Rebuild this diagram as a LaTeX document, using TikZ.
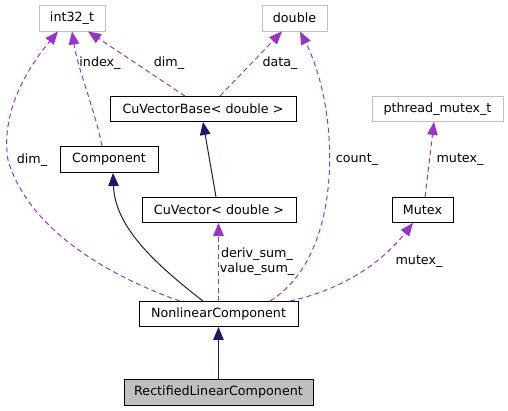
\documentclass[tikz,border=0pt]{standalone}
\usepackage{fontspec}
\setmainfont{DejaVu Sans}
\usetikzlibrary{arrows.meta}
\definecolor{purp}{HTML}{9A32CD}
\definecolor{navyb}{HTML}{191970}
\definecolor{boxgray}{HTML}{BFBFBF}
\begin{document}
\begin{tikzpicture}[x=1pt,y=-1pt,font=\fontsize{12.7}{14.5}\selectfont,
  cls/.style={draw=black,line width=0.9pt,inner sep=0pt,fill=white},
  ext/.style={draw=boxgray,line width=0.9pt,inner sep=0pt,fill=white},
  inh/.style={draw=navyb,line width=1pt,-{Triangle[length=13pt,width=10.5pt,fill=navyb]}},
  use/.style={draw=purp,line width=1pt,dash pattern=on 5pt off 3.5pt,-{Triangle[length=13pt,width=10.5pt,fill=purp]}},
  lbl/.style={inner sep=0pt,align=center}]
\useasboundingbox (0,0) rectangle (508,411);
% nodes
\node[ext,minimum width=66pt,minimum height=26pt] (int) at (72,18) {int32\_t};
\node[ext,minimum width=65pt,minimum height=26pt] (dbl) at (294.5,18) {double};
\node[cls,minimum width=186pt,minimum height=25pt] (cvb) at (203,109) {CuVectorBase< double >};
\node[ext,minimum width=131pt,minimum height=25pt] (pth) at (437.5,109) {pthread\_mutex\_t};
\node[cls,minimum width=98pt,minimum height=26pt] (comp) at (109,159.5) {Component};
\node[cls,minimum width=154pt,minimum height=25pt] (cv) at (219,210) {CuVector< double >};
\node[cls,minimum width=61pt,minimum height=25pt] (mtx) at (422.5,210) {Mutex};
\node[cls,minimum width=159pt,minimum height=25pt] (nlc) at (218.5,314) {NonlinearComponent};
\node[cls,fill=boxgray,minimum width=189pt,minimum height=26pt] (rlc) at (218.5,392) {RectifiedLinearComponent};
% edges
\draw[use] ([xshift=-18pt]cvb.north) -- ([xshift=16pt]int.south);
\draw[use] ([xshift=17pt]cvb.north) -- ([xshift=-12.5pt]dbl.south);
\draw[use] ([xshift=-7pt]comp.north) .. controls (95,110) and (78,70) .. (int.south);
\draw[use] ([xshift=-38.5pt]nlc.north) .. controls (120,280) and (30,235) .. (8,160)
  .. controls (0,110) and (30,65) .. ([xshift=-14pt]int.south);
\draw[use] ([xshift=51.5pt]nlc.north) .. controls (345,255) and (340,110) .. ([xshift=5.5pt]dbl.south);
\draw[use] (nlc.north) -- (nlc.north |- cv.south);
\draw[use] ([xshift=71.5pt]nlc.north) .. controls (340,290) and (380,265) .. ([xshift=-9.5pt]mtx.south);
\draw[use] ([xshift=2.5pt]mtx.north) -- ([xshift=-3.5pt]pth.south);
\draw[inh] ([xshift=-15.5pt]nlc.north) .. controls (150,260) and (115,225) .. ([xshift=4pt]comp.south);
\draw[inh] ([xshift=-3pt]cv.north) -- (cvb.south);
\draw[inh] (rlc.north) -- (nlc.south);
% labels
\node[lbl] (l1) at (169,63) {dim\_};
\node[lbl] (l2) at (280,63) {data\_};
\node[lbl] (l3) at (100,63) {index\_};
\node[lbl] (l4) at (32,160) {dim\_};
\node[lbl] (l5) at (357,160) {count\_};
\node[lbl] (l6) at (257,261.5) {deriv\_sum\_\\value\_sum\_};
\node[lbl] (l7) at (419,262) {mutex\_};
\node[lbl] (l8) at (460,160) {mutex\_};
\end{tikzpicture}
\end{document}
